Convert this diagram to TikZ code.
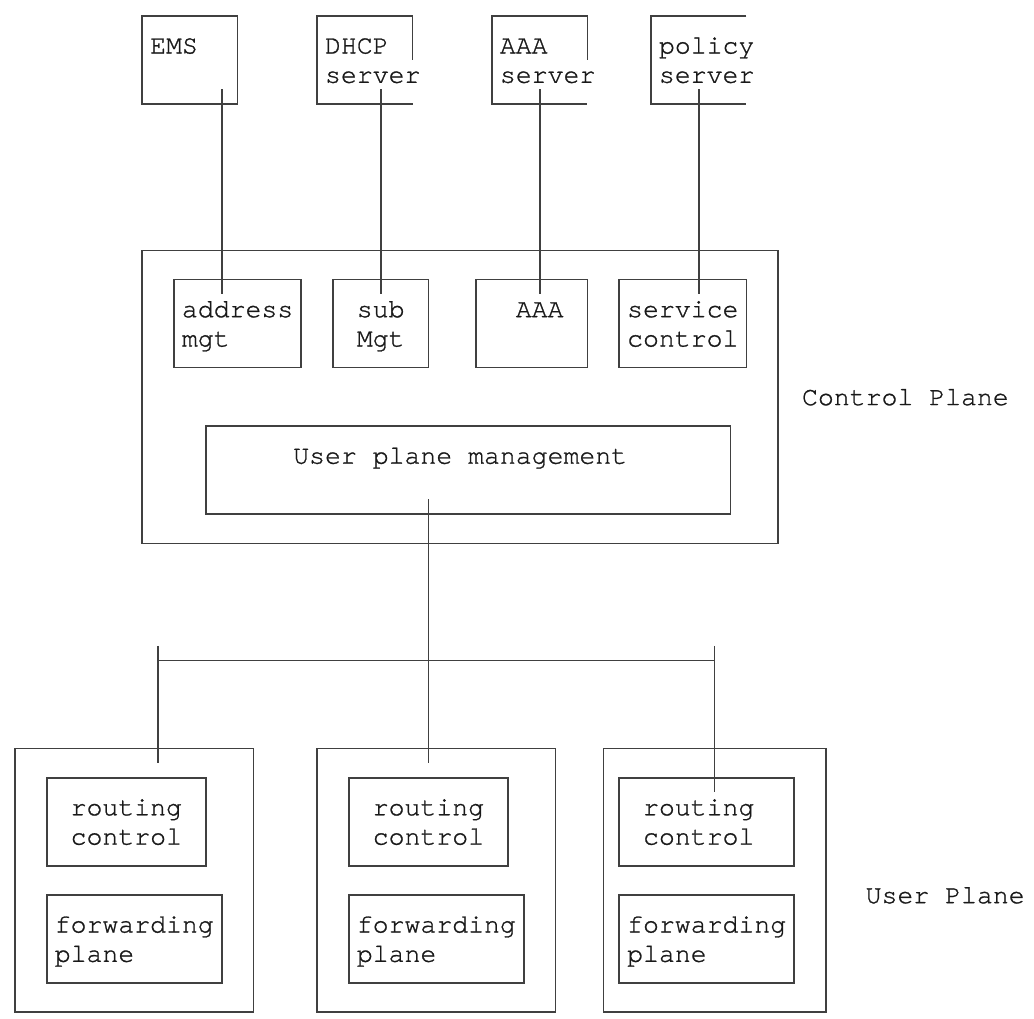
\documentclass[tikz,border=0pt]{standalone}
\usepackage{fontspec}
\newfontfamily\curfont[FakeBold=1]{TeX Gyre Cursor}
\usetikzlibrary{fit,calc}
\tikzset{
  wire/.style={draw=black!75, line width=1.6pt},
  boxst/.style={draw=black!75, line width=1.6pt, inner sep=0pt, outer sep=0pt, rectangle},
  openbox/.style={inner sep=0pt, outer sep=0pt, rectangle},
  lbl/.style={anchor=base west, inner sep=0pt, outer sep=0pt, text=black!90,
              font=\curfont\fontsize{26.5pt}{29.3pt}\selectfont},
}
\begin{document}
\begin{tikzpicture}[x=15.9pt,y=-29.3pt]
\useasboundingbox (-0.9434,-0.5461) rectangle (64.0881,34.2321);

% ---------- top servers ----------
\node[boxst, fit={(8,0) (14,3)}] (ems) {};
\node[openbox, fit={(19,0) (25,3)}] (dhcp) {};
\node[openbox, fit={(30,0) (36,3)}] (aaasrv) {};
\node[openbox, fit={(40,0) (46,3)}] (pol) {};
\draw[wire] (dhcp.east) -- (dhcp.north east) -- (dhcp.north west) -- (dhcp.south west) -- (dhcp.south east);
\draw[wire] (aaasrv.east) -- (aaasrv.north east) -- (aaasrv.north west) -- (aaasrv.south west) -- (aaasrv.south east);
\draw[wire] (pol.north east) -- (pol.north west) -- (pol.south west) -- (pol.south east);

\node[lbl] (tEMS) at (8.5,1.28) {EMS};
\node[lbl] (tDHCP) at (19.5,1.28) {DHCP};
\node[lbl] (tDHCPs) at (19.5,2.28) {server};
\node[lbl] (tAAAS) at (30.5,1.28) {AAA};
\node[lbl] (tAAASs) at (30.5,2.28) {server};
\node[lbl] (tPol) at (40.5,1.28) {policy};
\node[lbl] (tPols) at (40.5,2.28) {server};

% ---------- control plane ----------
\node[boxst, fit={(8,8) (48,18)}] (cp) {};
\node[boxst, fit={(10,9) (18,12)}] (addr) {};
\node[boxst, fit={(20,9) (26,12)}] (sub) {};
\node[boxst, fit={(29,9) (36,12)}] (aaa) {};
\node[boxst, fit={(38,9) (46,12)}] (svc) {};
\node[boxst, fit={(12,14) (45,17)}] (upm) {};

\node[lbl] (tAddr) at (10.5,10.28) {address};
\node[lbl] (tAddr2) at (10.5,11.28) {mgt};
\node[lbl] (tSub) at (21.5,10.28) {sub};
\node[lbl] (tSub2) at (21.5,11.28) {Mgt};
\node[lbl] (tAAA) at (31.5,10.28) {AAA};
\node[lbl] (tSvc) at (38.5,10.28) {service};
\node[lbl] (tSvc2) at (38.5,11.28) {control};
\node[lbl] (tUPM) at (17.5,15.28) {User plane management};
\node[lbl] (tCP) at (49.5,13.28) {Control Plane};

% ---------- user planes ----------
\node[boxst, fit={(0,25) (15,34)}] (up1) {};
\node[boxst, fit={(2,26) (12,29)}] (rc1) {};
\node[boxst, fit={(2,30) (13,33)}] (fp1) {};
\node[boxst, fit={(19,25) (34,34)}] (up2) {};
\node[boxst, fit={(21,26) (31,29)}] (rc2) {};
\node[boxst, fit={(21,30) (32,33)}] (fp2) {};
\node[boxst, fit={(37,25) (51,34)}] (up3) {};
\node[boxst, fit={(38,26) (49,29)}] (rc3) {};
\node[boxst, fit={(38,30) (49,33)}] (fp3) {};

\node[lbl] (tR1) at (3.5,27.28) {routing};
\node[lbl] (tC1) at (3.5,28.28) {control};
\node[lbl] (tF1) at (2.5,31.28) {forwarding};
\node[lbl] (tP1) at (2.5,32.28) {plane};
\node[lbl] (tR2) at (22.5,27.28) {routing};
\node[lbl] (tC2) at (22.5,28.28) {control};
\node[lbl] (tF2) at (21.5,31.28) {forwarding};
\node[lbl] (tP2) at (21.5,32.28) {plane};
\node[lbl] (tR3) at (39.5,27.28) {routing};
\node[lbl] (tC3) at (39.5,28.28) {control};
\node[lbl] (tF3) at (38.5,31.28) {forwarding};
\node[lbl] (tP3) at (38.5,32.28) {plane};
\node[lbl] (tUP) at (53.5,30.28) {User Plane};

% ---------- connectors ----------
\draw[wire] ($(13,0 |- ems.south)+(0,-0.5)$) -- ($(13,0 |- addr.north)+(0,0.5)$);
\draw[wire] ($(23,0 |- dhcp.south)+(0,-0.5)$) -- ($(23,0 |- sub.north)+(0,0.5)$);
\draw[wire] ($(33,0 |- aaasrv.south)+(0,-0.5)$) -- ($(33,0 |- aaa.north)+(0,0.5)$);
\draw[wire] ($(43,0 |- pol.south)+(0,-0.5)$) -- ($(43,0 |- svc.north)+(0,0.5)$);

\coordinate (busL) at (9,22);
\coordinate (busM) at (26,22);
\coordinate (busR) at (44,22);
\draw[wire] ($(26,0 |- upm.south)+(0,-0.5)$) -- ($(26,0 |- up2.north)+(0,0.5)$);
\draw[wire] (busL) -- (busR);
\draw[wire] ($(busL)+(0,-0.5)$) -- ($(9,0 |- up1.north)+(0,0.5)$);
\draw[wire] ($(busR)+(0,-0.5)$) -- ($(44,0 |- rc3.north)+(0,0.5)$);
\end{tikzpicture}
\end{document}
